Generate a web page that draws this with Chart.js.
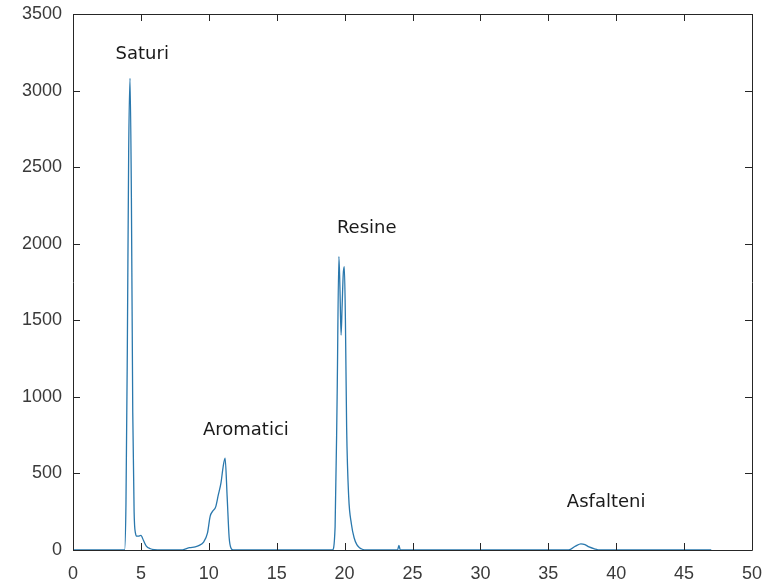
<!DOCTYPE html>
<html>
<head>
<meta charset="utf-8">
<script src="https://cdn.jsdelivr.net/npm/chart.js@4.4.1/dist/chart.umd.min.js"></script>
<style>
  html, body { margin: 0; padding: 0; background: #ffffff; }
  #wrap { width: 765px; height: 584px; }
</style>
</head>
<body>
<div id="wrap"><canvas id="chromatogram" width="765" height="584"></canvas></div>
<script>
// Retention time (min) and detector signal of the SARA fractionation run
const retentionTime = [
  0, 3.8, 3.9, 4.0, 4.1, 4.2, 4.3, 4.4, 4.5, 4.6, 4.7, 4.8, 5.0, 5.2, 5.4, 5.7, 6.0, 6.5,
  8.0, 8.3, 8.6, 9.0, 9.3, 9.6, 9.9, 10.1, 10.3, 10.5, 10.7, 10.9, 11.05, 11.2, 11.35, 11.5, 11.65, 11.8,
  19.1, 19.3, 19.45, 19.58, 19.66, 19.74, 19.82, 19.9, 19.98, 20.06, 20.15, 20.3, 20.5, 20.7, 20.9, 21.1, 21.3, 21.6,
  23.9, 24.0, 24.1,
  36.5, 37.0, 37.4, 37.7, 38.0, 38.4, 38.8, 47.0
];
const signal = [
  0, 0, 300, 1300, 2600, 3080, 2300, 900, 250, 110, 90, 90, 95, 60, 25, 8, 2, 0,
  0, 8, 15, 20, 30, 50, 110, 220, 255, 280, 360, 440, 540, 600, 350, 80, 10, 0,
  0, 150, 1000, 1916, 1700, 1404, 1600, 1800, 1850, 1500, 800, 350, 170, 80, 35, 15, 5, 0,
  0, 30, 0,
  0, 25, 40, 35, 20, 8, 0, 0
];

// Axis ticks
const xTicks = [0, 5, 10, 15, 20, 25, 30, 35, 40, 45, 50];
const yTicks = [0, 500, 1000, 1500, 2000, 2500, 3000, 3500];

// Fraction names and where they sit (time, signal of text baseline)
const fractionNames = ['Saturi', 'Aromatici', 'Resine', 'Asfalteni'];
const fractionTime = [5.1, 12.73, 21.63, 39.26];
const fractionLevel = [3207, 751, 2068, 283];

const points = retentionTime.map((t, i) => ({ x: t, y: signal[i] }));

const AXIS_COLOR = '#262626';
const TICK_LEN = 7;

// Box around the plot with inward tick marks on all four sides
const boxAxes = {
  id: 'boxAxes',
  afterDatasetsDraw(chart) {
    const { ctx, chartArea: a, scales } = chart;
    ctx.save();
    ctx.strokeStyle = AXIS_COLOR;
    ctx.lineWidth = 1;
    ctx.beginPath();
    xTicks.forEach(v => {
      const px = Math.round(scales.x.getPixelForValue(v)) + 0.5;
      ctx.moveTo(px, a.bottom); ctx.lineTo(px, a.bottom - TICK_LEN);
      ctx.moveTo(px, a.top); ctx.lineTo(px, a.top + TICK_LEN);
    });
    yTicks.forEach(v => {
      const py = Math.round(scales.y.getPixelForValue(v)) + 0.5;
      ctx.moveTo(a.left, py); ctx.lineTo(a.left + TICK_LEN, py);
      ctx.moveTo(a.right, py); ctx.lineTo(a.right - TICK_LEN, py);
    });
    ctx.stroke();
    ctx.beginPath();
    ctx.rect(Math.round(a.left) + 0.5, Math.round(a.top) + 0.5,
             Math.round(a.right - a.left), Math.round(a.bottom - a.top));
    ctx.stroke();
    ctx.restore();
  }
};

// Fraction names written inside the plot at data coordinates
const fractionLabels = {
  id: 'fractionLabels',
  afterDatasetsDraw(chart) {
    const { ctx, scales } = chart;
    ctx.save();
    ctx.font = '18px "DejaVu Sans", sans-serif';
    ctx.fillStyle = '#1a1a1a';
    ctx.textAlign = 'center';
    ctx.textBaseline = 'alphabetic';
    fractionNames.forEach((name, i) => {
      ctx.fillText(name,
        scales.x.getPixelForValue(fractionTime[i]),
        scales.y.getPixelForValue(fractionLevel[i]));
    });
    ctx.restore();
  }
};

const tickFont = { family: '"Liberation Sans", Arial, sans-serif', size: 18 };

new Chart(document.getElementById('chromatogram'), {
  type: 'line',
  data: {
    datasets: [{
      data: points,
      borderColor: '#2a78ad',
      borderWidth: 1.3,
      pointRadius: 0,
      cubicInterpolationMode: 'monotone',
      fill: false
    }]
  },
  options: {
    responsive: false,
    animation: false,
    layout: { padding: { left: 0, right: 13, top: 14, bottom: 0 } },
    plugins: { legend: { display: false }, tooltip: { enabled: false } },
    scales: {
      x: {
        type: 'linear',
        min: 0, max: 50,
        afterBuildTicks: s => { s.ticks = xTicks.map(v => ({ value: v })); },
        afterFit: s => {
          s.height = 34;
          s.paddingLeft = 0; s.paddingRight = 0;
        },
        grid: { display: false, drawTicks: false },
        border: { display: false },
        ticks: {
          color: '#3a3a3a',
          padding: 13,
          maxRotation: 0,
          callback: v => String(v),
          font: tickFont
        }
      },
      y: {
        type: 'linear',
        min: 0, max: 3500,
        afterBuildTicks: s => { s.ticks = yTicks.map(v => ({ value: v })); },
        afterFit: s => {
          s.width = 73;
          s.paddingTop = 0; s.paddingBottom = 0;
        },
        grid: { display: false, drawTicks: false },
        border: { display: false },
        ticks: {
          color: '#3a3a3a',
          padding: 11,
          callback: v => String(v),
          font: tickFont
        }
      }
    }
  },
  plugins: [boxAxes, fractionLabels]
});
</script>
</body>
</html>
